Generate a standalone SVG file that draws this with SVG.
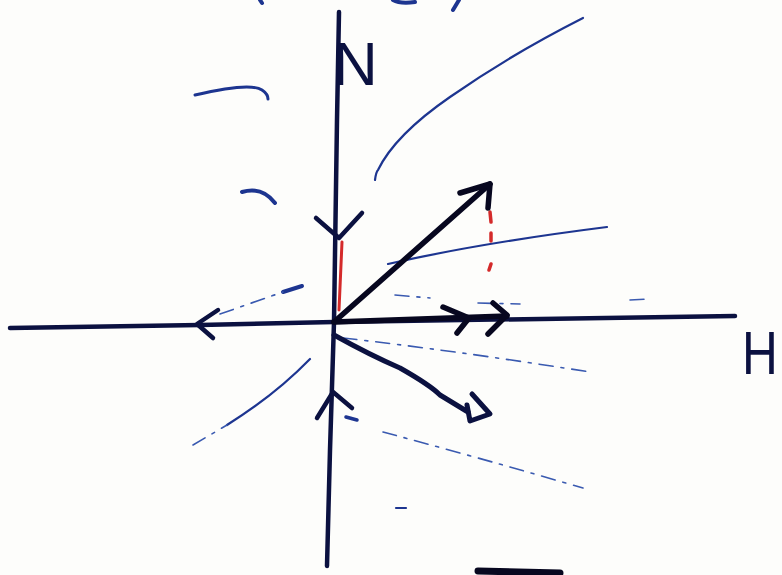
<svg xmlns="http://www.w3.org/2000/svg" width="782" height="575" viewBox="0 0 782 575">
<style>
.ax{fill:none;stroke:#0b1140;stroke-width:4.5;stroke-linecap:round;stroke-linejoin:round}
.vec{fill:none;stroke:#07071f;stroke-width:5.5;stroke-linecap:round;stroke-linejoin:round}
.fl{fill:none;stroke:#1d3590;stroke-width:2.2;stroke-linecap:round}
.flt{fill:none;stroke:#3a5ab0;stroke-width:1.6;stroke-linecap:round;stroke-dasharray:14 8 3 8}
.red{fill:none;stroke:#d42a2a;stroke-width:3;stroke-linecap:round}
.lbl{font-family:"Liberation Sans",Arial,sans-serif;fill:#0b1140}
</style>
<rect width="782" height="575" fill="#fdfdfb"/>
<g id="field-lines">
<path class="fl" d="M375,180 Q376,172 378,170 Q395,135 450,97 Q510,55 583,18"/>
<path class="fl" d="M388,264 Q480,243 607,227"/>
<path class="flt" d="M395,295 L430,298 M478,303 L520,304 M630,300 L650,299"/>
<path class="flt" d="M343,338 Q450,350 590,372"/>
<path class="flt" d="M383,432 Q480,458 583,488"/>
<path class="fl" d="M396,508 L406,508"/>
<path class="fl" d="M227,425 Q275,395 310,359"/>
<path class="flt" d="M193,445 L227,425"/>
<path class="fl" d="M283,292 L302,286" style="stroke-width:4"/>
<path class="flt" d="M220,314 L283,292"/>
<path class="fl" d="M195,95 Q250,82 262,90 Q268,94 268,99" style="stroke-width:3"/>
<path class="fl" d="M242,192 Q262,186 275,203" style="stroke-width:4"/>
<path class="fl" d="M260,0 L262,3 M393,0 Q400,4 415,2 M459,0 L453,10" style="stroke-width:4"/>
<path class="fl" d="M346,417 L357,420" style="stroke-width:3.5"/>
</g>
<g id="axes">
<path class="ax" d="M339,12 L337,120 L334,322 L330,450 L327,566"/>
<path class="ax" d="M10,328 L200,325 L334,322 L735,316"/>
<path class="ax" d="M316,218 L339,238 L362,213"/>
<path class="ax" d="M317,418 L333,392 L352,408"/>
<path class="ax" d="M218,310 L197,324 L213,338"/>
<path class="vec" d="M478,571 L560,573" style="stroke-width:7"/>
</g>
<g id="vectors">
<path class="red" d="M342,242 L339,310"/>
<path class="red" d="M490,212 L491,222 M491,233 L491,241 M491,264 L489,270" style="stroke-width:3.5"/>
<path class="vec" d="M334,322 L490,184"/>
<path class="vec" d="M460,193 L490,184 L488,208"/>
<path class="vec" d="M334,322 L507,316"/>
<path class="vec" d="M443,307 L469,318 L457,333"/>
<path class="vec" d="M493,303 L507,315 L488,334"/>
<path class="vec" d="M334,335 Q370,355 400,368 Q430,385 440,395 L468,412" style="stroke:#0b1140;stroke-width:5"/>
<path class="vec" d="M472,394 L490,414 L470,421 L467,405" style="stroke:#0b1140;stroke-width:5"/>
</g>
<g id="labels">
<text class="lbl" x="333" y="85" font-size="62">N</text>
<text class="lbl" x="742" y="374" font-size="62" transform="translate(742,0) scale(0.8,1) translate(-742,0)">H</text>
</g>
</svg>
